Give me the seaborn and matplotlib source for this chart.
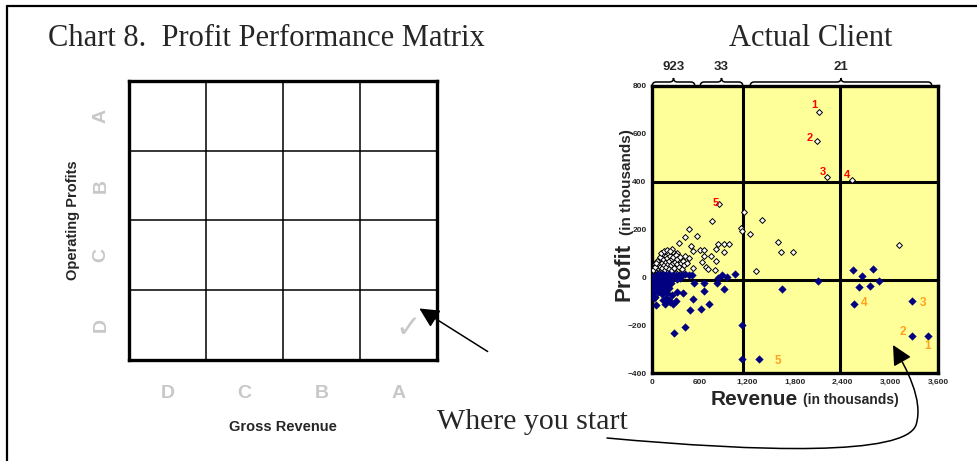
import numpy as np
import pandas as pd
import matplotlib
matplotlib.use('Agg')
import matplotlib.pyplot as plt
from matplotlib.path import Path
from matplotlib.patches import FancyArrowPatch, PathPatch
from matplotlib.ticker import FuncFormatter
import seaborn as sns

sns.set_style('white')
plt.rcParams['font.family'] = ['Liberation Sans', 'DejaVu Sans']

# --- data (revenue, profit in thousands) ---
grades = ['D', 'C', 'B', 'A']

# profitable clients (open diamonds)
pos_revenue = [843, 2102, 2073, 2199, 2521,
               755, 1154, 1116, 1130, 1238, 1385, 1586, 1624, 1771, 1313, 3113,
               466, 415, 570, 344, 491, 512, 604, 655, 827, 902, 965, 802, 902,
               658, 743, 634, 684, 709, 802, 793, 520, 256, 273, 315,
               20, 30, 45, 50, 60, 70, 80, 90, 100, 105, 110, 120, 125, 130, 140,
               150, 155, 160, 170, 175, 180, 190, 200, 205, 210, 220, 230, 240,
               250, 260, 270, 280, 290, 300, 310, 320, 335, 350, 360, 375, 390,
               400, 420, 440, 460, 40, 65, 95, 115, 145, 185, 225, 15, 35, 55,
               85, 135, 195, 245, 300, 350]
pos_profit = [305, 692, 570, 420, 409,
              237, 273, 208, 194, 180, 241, 148, 107, 107, 28, 137,
              201, 169, 173, 145, 131, 110, 113, 114, 138, 141, 138, 117, 107,
              88, 88, 64, 43, 33, 68, 29, 40, 120, 103, 103,
              10, 25, 15, 40, 30, 20, 55, 35, 45, 70, 25, 60, 85, 40, 75,
              50, 95, 30, 65, 90, 45, 80, 55, 100, 35, 70, 90, 50,
              75, 60, 85, 40, 65, 95, 55, 75, 45, 85, 60, 35, 70,
              50, 90, 60, 80, 55, 70, 85, 100, 110, 115, 110, 30, 45, 60,
              20, 15, 20, 25, 20, 15]

# loss-making / marginal clients (filled diamonds)
neg_revenue = [877, 948, 1045, 827, 529, 650, 650, 822, 910, 311, 394, 520,
               717, 617, 474, 281, 415, 46, 34, 0, 1137, 1137, 1343, 1641,
               2085, 2534, 2786, 2648, 2606, 2748, 2853, 2547, 3273, 3273, 3474,
               60, 100, 140, 180, 220, 260, 300, 340, 380, 420, 460, 500,
               10, 20, 30, 40, 50, 60, 70, 80, 90, 100, 110, 120, 130, 140, 150,
               160, 170, 180, 190, 200, 210, 220, 240, 250, 270, 180, 230, 300,
               140, 160, 5, 15, 25, 0, 8, 35, 70, 110, 150, 190, 230, 270, 310, 350]
neg_profit = [8, 3, 13, -1, -25, -25, -57, -22, -50, -60, -64, -92,
              -110, -134, -137, -231, -209, -116, -81, -75, -198, -343, -343, -50,
              -15, 30, 33, 7, -39, -35, -15, -111, -100, -245, -245,
              10, 12, 8, 10, 12, 9, 11, 10, 8, 12, 10, 9,
              -5, -20, -10, -35, -15, -45, -25, -60, -5, -30, -50, -15, -70, -40, -20,
              -55, -85, -30, -65, -10, -45, -95, -25, -75, -110, -105, -105, -100,
              -95, -110, -40, -60, -85, -10, 0, 0, 0, 2, 0, -2, 0, -3, -5, -2]

# numbered top / bottom clients
top_labels = ['1', '2', '3', '4', '5']
top_label_rev = [2040, 1990, 2150, 2450, 800]
top_label_profit = [720, 582, 440, 428, 312]
bottom_labels = ['1', '2', '3', '4', '5']
bottom_label_rev = [3470, 3164, 3416, 2673, 1582]
bottom_label_profit = [-287, -229, -109, -109, -350]

# client counts per revenue band
band_counts = ['923', '33', '21']
band_edges_px = [(652, 695), (700, 743), (750, 932)]

pos = pd.DataFrame({'revenue': pos_revenue, 'profit': pos_profit})
neg = pd.DataFrame({'revenue': neg_revenue, 'profit': neg_profit})

fig = plt.figure(figsize=(9.77, 4.61), dpi=100)
W, H = 977, 461


def px_rect(x0, y0, x1, y1):
    return [x0 / W, 1 - y1 / H, (x1 - x0) / W, (y1 - y0) / H]


# --- left: empty 4x4 matrix ---
axl = fig.add_axes(px_rect(129, 81, 437, 360))
axl.set_xlim(0, 4)
axl.set_ylim(0, 4)
for v in [1, 2, 3]:
    axl.axvline(v, color='black', lw=1.1)
    axl.axhline(v, color='black', lw=1.1)
for s in axl.spines.values():
    s.set_linewidth(2.4)
    s.set_color('black')
axl.set_xticks(np.arange(4) + 0.5)
axl.set_xticklabels(grades, color='#c8c8c8', fontsize=14, fontweight='bold')
axl.set_yticks(np.arange(4) + 0.5)
axl.set_yticklabels(grades, color='#c8c8c8', fontsize=14, fontweight='bold',
                    rotation=90, va='center')
axl.tick_params(length=0, pad=18)
axl.tick_params(axis='y', pad=14)
axl.set_xlabel('Gross Revenue', fontsize=10.5, fontweight='bold', labelpad=13)
axl.set_ylabel('Operating Profits', fontsize=10.5, fontweight='bold', labelpad=9)
axl.text(3.62, 0.45, '\u2713', fontsize=22, color='#c8c8c8', ha='center', va='center')

# --- right: actual client scatter ---
axr = fig.add_axes(px_rect(652, 86, 938, 373))
axr.set_facecolor('#ffff99')
sns.scatterplot(data=pos, x='revenue', y='profit', ax=axr, marker='D', s=9,
                facecolor='white', edgecolor='black', linewidth=0.7, zorder=3)
sns.scatterplot(data=neg, x='revenue', y='profit', ax=axr, marker='D', s=15,
                color='#000080', edgecolor='#000080', linewidth=0.3, zorder=4)
axr.axvline(1150, color='black', lw=2.2, zorder=2)
axr.axvline(2370, color='black', lw=2.2, zorder=2)
axr.axhline(400, color='black', lw=2.2, zorder=2)
axr.axhline(-10, color='black', lw=2.2, zorder=2)
axr.set_xlim(0, 3600)
axr.set_ylim(-400, 800)
axr.set_xticks(range(0, 3601, 600))
axr.set_yticks(range(-400, 801, 200))
axr.xaxis.set_major_formatter(FuncFormatter(lambda v, p: f'{int(v):,}'))
axr.tick_params(labelsize=6, length=2, width=0.8, pad=2)
for lab in axr.get_xticklabels() + axr.get_yticklabels():
    lab.set_fontweight('bold')
for s in axr.spines.values():
    s.set_linewidth(2.4)
    s.set_color('black')
axr.set_xlabel('')
axr.set_ylabel('')
for t, x, y in zip(top_labels, top_label_rev, top_label_profit):
    axr.text(x, y, t, color='red', fontsize=8, fontweight='bold',
             ha='center', va='center', zorder=5)
for t, x, y in zip(bottom_labels, bottom_label_rev, bottom_label_profit):
    axr.text(x, y, t, color='#ffa020', fontsize=8.5, fontweight='bold',
             ha='center', va='center', zorder=5)

# --- overlay for titles, frame, arrows ---
ov = fig.add_axes([0, 0, 1, 1], zorder=10)
ov.set_xlim(0, W)
ov.set_ylim(H, 0)
ov.axis('off')
ov.patch.set_alpha(0)

ov.plot([7, W], [6, 6], color='black', lw=1.6)
ov.plot([7, 7], [6, H], color='black', lw=1.6)

ov.text(48, 38, 'Chart 8.  Profit Performance Matrix', family='Liberation Serif',
        fontsize=22, va='center', ha='left')
ov.text(811, 38, 'Actual Client', family='Liberation Serif',
        fontsize=22, va='center', ha='center')
ov.text(437, 422, 'Where you start', family='Liberation Serif',
        fontsize=21.5, va='center', ha='left')

# axis titles of the right panel
ov.text(624, 272, 'Profit', fontsize=16, fontweight='bold', rotation=90,
        ha='center', va='center')
ov.text(627, 182, '(in thousands)', fontsize=11, fontweight='bold', rotation=90,
        ha='center', va='center')
ov.text(754, 399, 'Revenue', fontsize=15, fontweight='bold',
        ha='center', va='center')
ov.text(851, 400, '(in thousands)', fontsize=10, fontweight='bold',
        ha='center', va='center')

# braces with client counts
for label, (x0, x1) in zip(band_counts, band_edges_px):
    m = (x0 + x1) / 2
    y = 82
    verts = [(x0, y + 5), (x0, y), (x0 + 4, y), (m - 4, y), (m, y), (m, y - 4),
             (m, y), (m + 4, y), (x1 - 4, y), (x1, y), (x1, y + 5)]
    codes = [Path.MOVETO, Path.CURVE3, Path.CURVE3, Path.LINETO, Path.CURVE3, Path.CURVE3,
             Path.CURVE3, Path.CURVE3, Path.LINETO, Path.CURVE3, Path.CURVE3]
    ov.add_patch(PathPatch(Path(verts, codes), fill=False, lw=1.1, color='black'))
    ov.text(m, 67, label, fontsize=9.5, fontweight='bold', ha='center', va='center')

# straight arrow to left matrix
ov.annotate('', xy=(417, 307), xytext=(490, 353),
            arrowprops=dict(arrowstyle='-|>', color='black', lw=1.1,
                            mutation_scale=30))

# curved arrow to the actual client corner
curve = Path([(607, 438), (760, 452), (905, 456), (916, 425),
              (924, 400), (906, 368), (893, 345)],
             [Path.MOVETO, Path.CURVE4, Path.CURVE4, Path.CURVE4,
              Path.CURVE4, Path.CURVE4, Path.CURVE4])
ov.add_patch(FancyArrowPatch(path=curve, arrowstyle='-|>', color='black',
                             lw=1.1, mutation_scale=30))

plt.savefig('out.png', dpi=100)
